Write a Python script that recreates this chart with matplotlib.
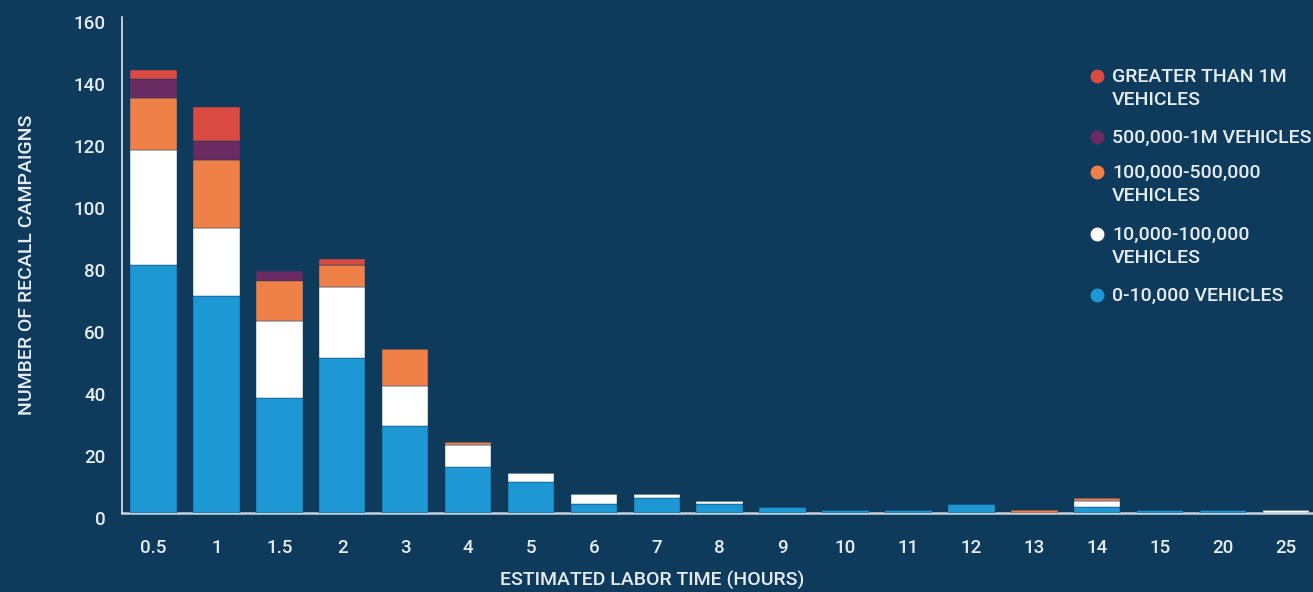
import numpy as np
import matplotlib
matplotlib.use("Agg")
import matplotlib.pyplot as plt
from matplotlib.lines import Line2D
from matplotlib.transforms import ScaledTranslation

plt.rcParams['font.family'] = ['Roboto', 'DejaVu Sans']
plt.rcParams['font.weight'] = 'medium'

# labor time categories (hours)
hours = ['0.5', '1', '1.5', '2', '3', '4', '5', '6', '7', '8', '9',
         '10', '11', '12', '13', '14', '15', '20', '25']

# recall campaign counts per vehicle population bucket
v_0_10k     = [80, 70, 37, 50, 28, 15, 10, 3, 5, 3, 2, 1, 1, 3, 0, 2, 1, 1, 0]
v_10k_100k  = [37, 22, 25, 23, 13, 7, 3, 3, 1, 1, 0, 0, 0, 0, 0, 2, 0, 0, 1]
v_100k_500k = [17, 22, 13, 7, 12, 1, 0, 0, 0, 0, 0, 0, 0, 0, 1, 1, 0, 0, 0]
v_500k_1m   = [6, 6, 3, 0, 0, 0, 0, 0, 0, 0, 0, 0, 0, 0, 0, 0, 0, 0, 0]
v_over_1m   = [3, 11, 0, 2, 0, 0, 0, 0, 0, 0, 0, 0, 0, 0, 0, 0, 0, 0, 0]

series = [
    (v_0_10k, '#1e98d4', '0-10,000 VEHICLES'),
    (v_10k_100k, '#ffffff', '10,000-100,000\nVEHICLES'),
    (v_100k_500k, '#ef8048', '100,000-500,000\nVEHICLES'),
    (v_500k_1m, '#6a2a62', '500,000-1M VEHICLES'),
    (v_over_1m, '#d94a42', 'GREATER THAN 1M\nVEHICLES'),
]

bg = '#0e3a5c'
txt = '#e6edf2'

fig = plt.figure(figsize=(13.13, 5.92), dpi=100)
fig.patch.set_facecolor(bg)
ax = fig.add_axes([122 / 1313, 79 / 592, 1 - 122 / 1313, 496 / 592])
ax.set_facecolor(bg)

x = np.arange(len(hours))
bottom = np.zeros(len(hours))
for vals, col, lab in series:
    vals = np.array(vals, dtype=float)
    ax.bar(x, vals, width=0.74, bottom=bottom, color=col,
           edgecolor=bg, linewidth=0.3, zorder=3)
    bottom += vals

ax.set_xlim(-0.5, 18.43)
ax.set_ylim(0, 160)
ax.set_yticks(range(0, 161, 20))
ax.set_xticks(x)
ax.set_xticklabels(hours)

for s in ['top', 'right']:
    ax.spines[s].set_visible(False)
ax.spines['left'].set_color('#dfe6ec')
ax.spines['left'].set_linewidth(1.2)
ax.spines['bottom'].set_color('#c9d2da')
ax.spines['bottom'].set_linewidth(1.8)
ax.spines['bottom'].set_zorder(1)

ax.tick_params(axis='both', length=0, colors=txt, labelsize=13.5)
ax.tick_params(axis='y', pad=12)
ax.tick_params(axis='x', pad=19)
off = ScaledTranslation(0, -5 / 100, fig.dpi_scale_trans)
for lbl in ax.get_yticklabels():
    lbl.set_transform(lbl.get_transform() + off)

fig.text(652 / 1313, 1 - 580 / 592, 'ESTIMATED LABOR TIME (HOURS)',
         color=txt, fontsize=14, ha='center', va='center')
fig.text(27 / 1313, 1 - 265 / 592, 'NUMBER OF RECALL CAMPAIGNS',
         color=txt, fontsize=14, ha='center', va='center', rotation=90)

# legend, top entry first
leg_y = [76, 137, 172, 234, 295]
for (vals, col, lab), yy in zip(series[::-1], leg_y):
    fig.add_artist(Line2D([1097 / 1313], [1 - yy / 592], marker='o',
                          markersize=9, color=col, linestyle='none',
                          transform=fig.transFigure))
    fig.text(1112 / 1313, 1 - (yy - 8) / 592, lab, color=txt, fontsize=14,
             ha='left', va='top', linespacing=1.38)

fig.savefig('out.png', dpi=100, facecolor=bg)
